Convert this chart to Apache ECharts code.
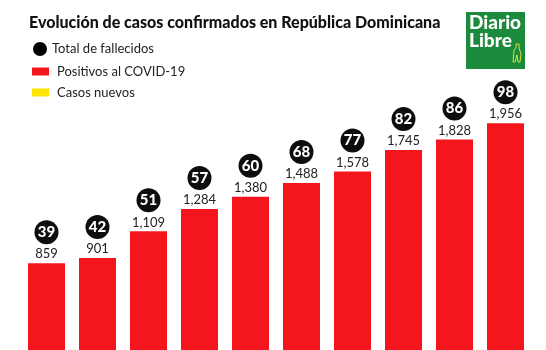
<!DOCTYPE html>
<html>
<head>
<meta charset="utf-8">
<script src="https://cdn.jsdelivr.net/npm/echarts@6/dist/echarts.min.js"></script>
<style>
  html, body { margin: 0; padding: 0; background: #fff; }
  #chart { width: 546px; height: 350px; }
</style>
</head>
<body>
<div id="chart"></div>
<script>
// dias (sin etiqueta visible en el grafico)
var dias = ['d1', 'd2', 'd3', 'd4', 'd5', 'd6', 'd7', 'd8', 'd9', 'd10'];
// casos positivos acumulados
var positivos = [859, 901, 1109, 1284, 1380, 1488, 1578, 1745, 1828, 1956];
// total de fallecidos
var fallecidos = [39, 42, 51, 57, 60, 68, 77, 82, 86, 98];

var chart = echarts.init(document.getElementById('chart'));

function miles(v) {
  return String(v).replace(/\B(?=(\d{3})+(?!\d))/g, ',');
}

var option = {
  animation: false,
  textStyle: { fontFamily: 'Lato' },
  title: {
    text: 'Evolución de casos confirmados en República Dominicana',
    left: 24,
    top: 10,
    textStyle: { fontFamily: 'Lato', fontWeight: 900, fontSize: 16, color: '#111' }
  },
  //leyenda del circulo y de los rectangulos
  legend: [
    {
      data: ['Total de fallecidos'],
      left: 28, top: 37,
      icon: 'circle',
      itemWidth: 14, itemHeight: 14, itemGap: 6,
      textStyle: { fontFamily: 'Lato', fontSize: 13, color: '#222' }
    },
    {
      data: ['Positivos al COVID-19', 'Casos nuevos'],
      orient: 'vertical',
      left: 27, top: 60,
      icon: 'rect',
      itemWidth: 17, itemHeight: 8, itemGap: 8,
      textStyle: { fontFamily: 'Lato', fontSize: 13, color: '#222', padding: [0, 0, 0, 3] }
    }
  ],
  grid: { left: 21, right: 15, top: 92, bottom: 0 },
  xAxis: {
    type: 'category',
    data: dias,
    axisLine: { show: false },
    axisTick: { show: false },
    axisLabel: { show: false }
  },
  yAxis: {
    type: 'value',
    min: 180,
    max: 2200,
    show: false,
    splitLine: { show: false }
  },
  series: [
    {
      name: 'Positivos al COVID-19',
      type: 'bar',
      data: positivos,
      barWidth: 37,
      itemStyle: { color: '#f5161d' },
      label: {
        show: true,
        position: 'top',
        distance: 2,
        formatter: function (p) {
          return '{d|' + fallecidos[p.dataIndex] + '}\n{s|}\n{v|' + miles(p.value) + '}';
        },
        rich: {
          d: {
            width: 24, height: 24, lineHeight: 24, borderRadius: 12,
            backgroundColor: '#0d0d0d', color: '#fff',
            fontFamily: 'Lato', fontWeight: 900, fontSize: 15, align: 'center'
          },
          s: { height: 3, lineHeight: 3 },
          v: { fontFamily: 'Lato', fontSize: 13, color: '#222', lineHeight: 14, align: 'center' }
        }
      }
    },
    {
      name: 'Total de fallecidos',
      type: 'line',
      data: [],
      itemStyle: { color: '#000' }
    },
    {
      name: 'Casos nuevos',
      type: 'line',
      data: [],
      itemStyle: { color: '#ffe600' }
    }
  ],
  //logo del periodico
  graphic: [
    { type: 'rect', left: 466, top: 12, shape: { width: 59, height: 57 }, style: { fill: '#1b8a3d' } },
    { type: 'text', left: 469, top: 13, style: { text: 'Diario', fill: '#fff', font: '900 19px Lato' } },
    { type: 'text', left: 469, top: 31, style: { text: 'Libre', fill: '#fff', font: '900 19px Lato' } },
    {
      type: 'polyline',
      shape: { points: [[516, 44], [519, 44], [519, 48], [521, 54], [520, 62], [518, 62], [517, 55], [515, 62], [513, 62], [514, 50], [516, 48], [516, 44]] },
      style: { fill: 'none', stroke: '#d7e43a', lineWidth: 1 }
    }
  ]
};

chart.setOption(option);
</script>
</body>
</html>
